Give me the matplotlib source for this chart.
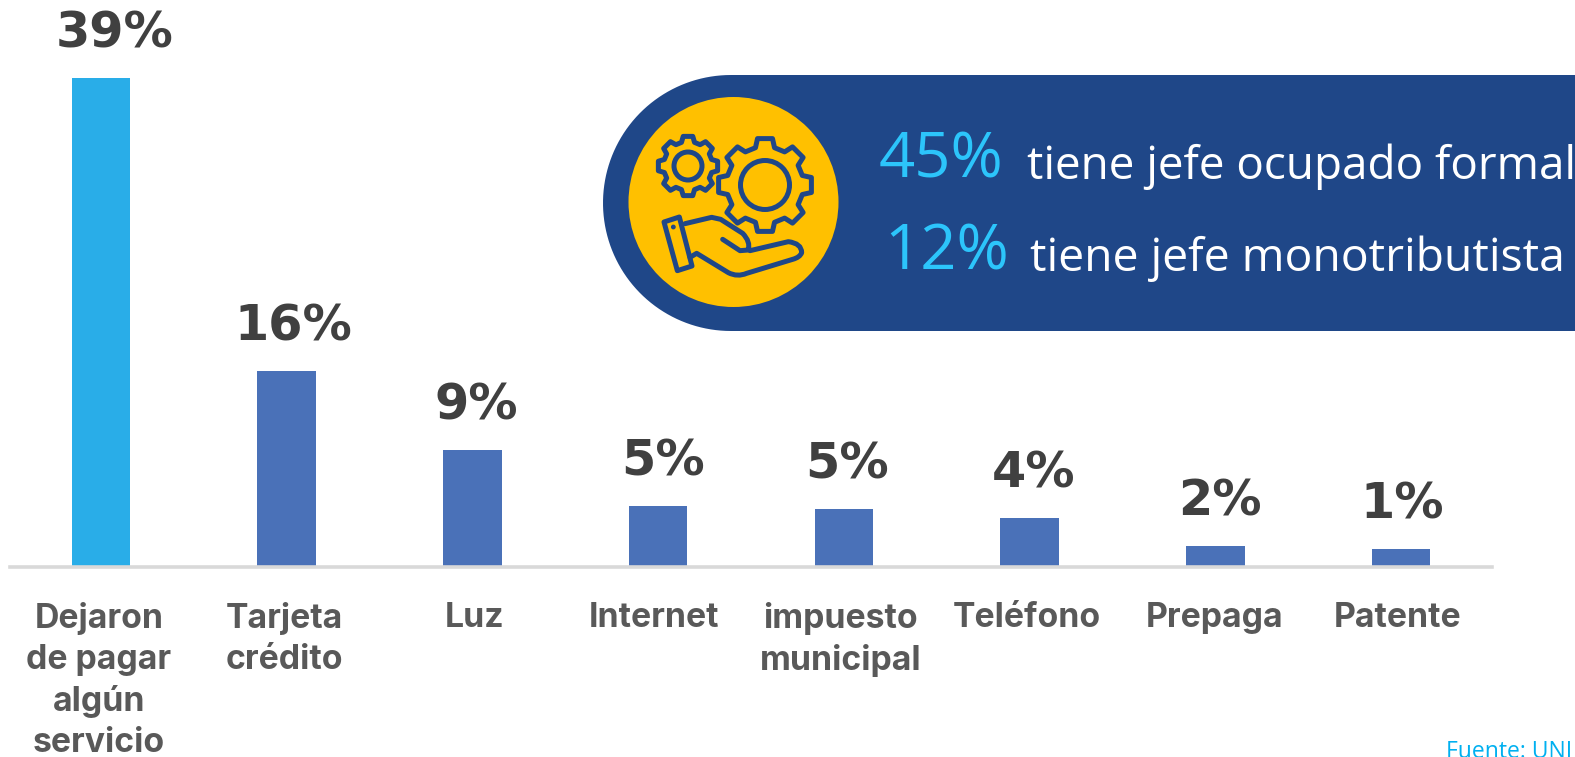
import numpy as np
import matplotlib
matplotlib.use("Agg")
import matplotlib.pyplot as plt
from matplotlib.patches import Circle, Polygon, PathPatch
from matplotlib.path import Path

# ---------- data ----------
categories = ["Dejaron\nde pagar\nalgún\nservicio", "Tarjeta\ncrédito", "Luz", "Internet",
              "impuesto\nmunicipal", "Teléfono", "Prepaga", "Patente"]
values = [39, 15.6, 9.3, 4.9, 4.6, 3.9, 1.7, 1.4]
value_labels = ["39%", "16%", "9%", "5%", "5%", "4%", "2%", "1%"]
pill_pct = ["45%", "12%"]
pill_txt = ["tiene jefe ocupado formal", "tiene jefe monotributista"]
source = "Fuente: UNI"

W, H = 1575, 757
BLUE = "#4A71B8"
LIGHT = "#29ADE8"
NAVY = "#1F4788"
YEL = "#FFC000"
CYAN = "#2CC5FB"

# label nudges in pixels, the source slide is not quite aligned
lab_dx = [14, 7, 4, 5, 3, 4, 5, 1]
tick_dx = [-2, -2, 3, -2, -1, 0, 3, 1]

fig = plt.figure(figsize=[W/100, H/100], dpi=100)

# bar chart, placed in pixels of the figure
y_axis = 567.0
ax = fig.add_axes([10/W, 1-y_axis/H, (1492-10)/W, y_axis/H])
x = np.arange(len(values))
colors = [LIGHT]+[BLUE]*(len(values)-1)
ax.bar(x, values, width=0.315, color=colors)
ax.set_xlim(-0.49, 7.49)
ax.set_ylim(0, y_axis/12.54)
ax.patch.set_alpha(0)
for s in ["top", "left", "right"]:
    ax.spines[s].set_visible(False)
ax.spines["bottom"].set_color("#D9D9D9")
ax.spines["bottom"].set_linewidth(2.6)
ax.set_yticks([])
ax.set_xticks(x*0.9968+np.array(tick_dx)/185.0)
ax.set_xticklabels(categories, family="Inter", weight="bold", size=24.3,
                   color="#595959", linespacing=1.36)
ax.tick_params(axis="x", length=0, pad=25)
for xi, v, lab, dx in zip(x, values, value_labels, lab_dx):
    ax.annotate(lab, (xi, v), xytext=(dx*0.72, 32), textcoords="offset points", ha="center", va="center",
                family="DejaVu Sans", weight="bold", size=35.5, color="#404040",
                annotation_clip=False)

# overlay in pixel coords for the banner
ov = fig.add_axes([0, 0, 1, 1], zorder=3)
ov.set_xlim(0, W)
ov.set_ylim(H, 0)
ov.axis("off")
ov.patch.set_alpha(0)

top, bot, left = 75, 331, 603
r = (bot-top)/2
t = np.linspace(np.pi/2, 3*np.pi/2, 80)
# y axis is inverted, arc runs from top edge round to the bottom edge
px = np.r_[W+5, left+r+r*np.cos(t), W+5]
py = np.r_[top, (top+bot)/2-r*np.sin(t), bot]
ov.add_patch(Polygon(np.c_[px, py], closed=True, fc=NAVY, ec="none"))
ov.add_patch(Circle((733.5, 202), 105, fc=YEL, ec="none"))

lw_icon = 3.6


def gear(cx, cy, r_out, r_in, n, w_out, w_in, rot=0.0):
    pts = []
    for k in range(n):
        a = rot+2*np.pi*k/n
        for da, rr in [(-w_in, r_in), (-w_out, r_out), (w_out, r_out), (w_in, r_in)]:
            pts.append((cx+rr*np.sin(a+da), cy-rr*np.cos(a+da)))
    return Polygon(pts, closed=True, fc="none", ec=NAVY, lw=lw_icon, joinstyle="round")


ov.add_patch(gear(688, 166, 30, 24.5, 8, 0.16, 0.27))
ov.add_patch(Circle((688, 166), 14, fc="none", ec=NAVY, lw=lw_icon))
ov.add_patch(gear(765, 185, 47, 38.5, 8, 0.16, 0.25))
ov.add_patch(Circle((765, 185), 24.5, fc="none", ec=NAVY, lw=lw_icon))


def zc(pts):
    # coordinates read on the 3x crop at (600,60)
    a = np.array(pts, dtype=float)
    return np.c_[600+a[:, 0]/3, 60+a[:, 1]/3]


cuff = zc([(192, 486), (238, 471), (276, 618), (232, 632)])
ov.add_patch(Polygon(cuff, closed=True, fc="none", ec=NAVY, lw=lw_icon, joinstyle="round"))
ov.add_patch(Circle(tuple(zc([(220, 501)])[0]), 2.4, fc=NAVY, ec="none"))

hand_v = zc([(255, 491), (335, 472), (362, 478), (428, 520), (452, 545), (445, 570), (420, 572), (368, 538)])
hand_c = [Path.MOVETO, Path.LINETO, Path.LINETO, Path.LINETO, Path.CURVE3, Path.CURVE3, Path.LINETO, Path.LINETO]
ov.add_patch(PathPatch(Path(hand_v, hand_c), fc="none", ec=NAVY, lw=lw_icon, capstyle="round", joinstyle="round"))
palm_v = zc([(450, 572), (565, 545), (605, 550), (605, 578), (600, 592), (578, 598), (440, 640),
             (412, 652), (385, 638), (290, 580), (270, 592)])
palm_c = [Path.MOVETO, Path.LINETO, Path.CURVE3, Path.CURVE3, Path.CURVE3, Path.CURVE3, Path.LINETO,
          Path.CURVE3, Path.CURVE3, Path.LINETO, Path.LINETO]
ov.add_patch(PathPatch(Path(palm_v, palm_c), fc="none", ec=NAVY, lw=lw_icon, capstyle="round", joinstyle="round"))

ov.text(879, 178, pill_pct[0], family="Open Sans", size=45.5, color=CYAN, va="baseline", ha="left")
ov.text(884, 270, pill_pct[1], family="Open Sans", size=45.5, color=CYAN, va="baseline", ha="left")
ov.text(1027, 179, pill_txt[0], family="Open Sans", size=33, color="white", va="baseline", ha="left")
ov.text(1030, 271, pill_txt[1], family="Open Sans", size=33.3, color="white", va="baseline", ha="left")
ov.text(1446, 758, source, family="Open Sans", size=16.5, color="#00B0F0", va="baseline", ha="left", clip_on=False)

fig.savefig("out.png", dpi=100)
